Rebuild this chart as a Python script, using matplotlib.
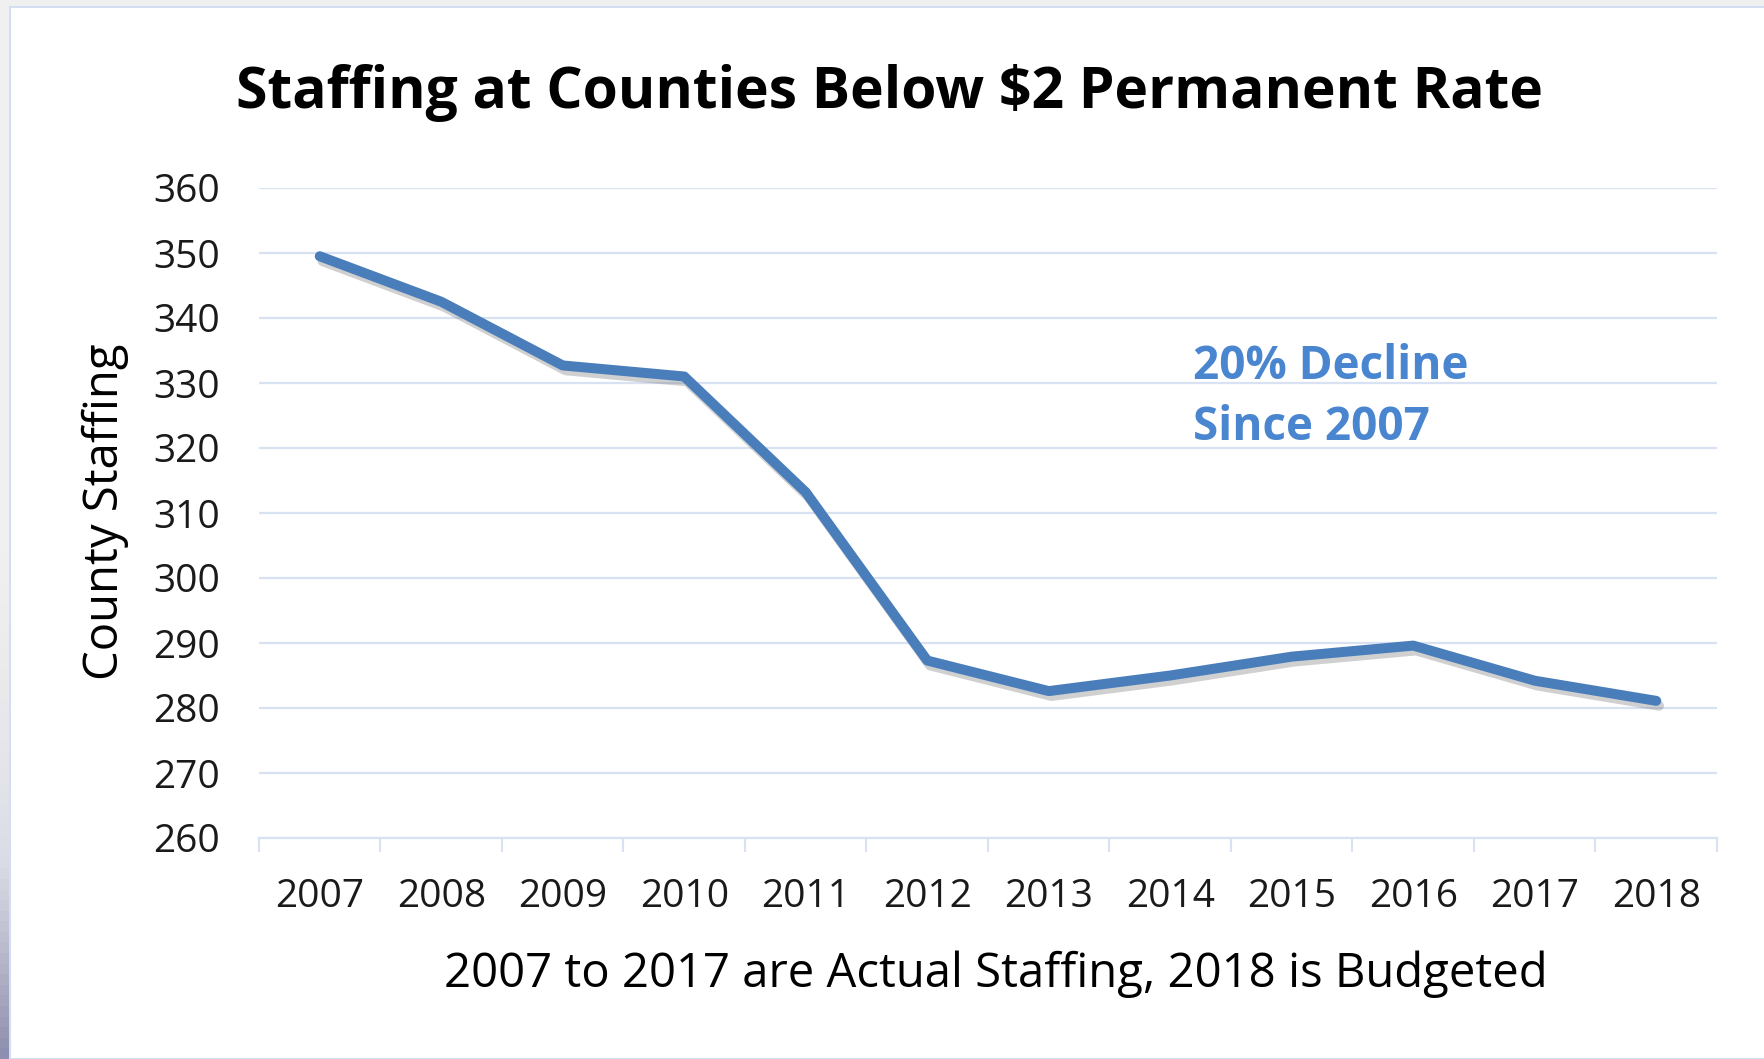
import numpy as np
import matplotlib
matplotlib.use("Agg")
import matplotlib.pyplot as plt
import matplotlib.patheffects as pe
from matplotlib.patches import Rectangle

# values
years = ["2007", "2008", "2009", "2010", "2011", "2012",
         "2013", "2014", "2015", "2016", "2017", "2018"]
staffing = [349.5, 342.5, 332.7, 331.0, 313.2, 287.3,
            282.6, 285.0, 287.9, 289.6, 284.2, 281.1]
y_ticks = [260, 270, 280, 290, 300, 310, 320, 330, 340, 350, 360]

title = "Staffing at Counties Below $2 Permanent Rate"
x_label = "2007 to 2017 are Actual Staffing, 2018 is Budgeted"
y_label = "County Staffing"
note = ["20% Decline", "Since 2007"]

LINE = "#4a7ebb"
GRID = "#d9e2f3"
NOTE = "#4a86d0"
W, H = 1765, 1059

plt.rcParams['font.family'] = ['Open Sans', 'DejaVu Sans']

fig = plt.figure(figsize=(W / 100, H / 100), dpi=100, facecolor="#f0f0f0")

# chart area frame
fig.patches.append(Rectangle((10 / W, 0), 1, 1 - 7 / H, transform=fig.transFigure,
                             facecolor="white", edgecolor="#d3def2", linewidth=1.5,
                             zorder=-5))
# left gradient strip
gax = fig.add_axes([0, 0, 9 / W, 1], zorder=-4)
grad = np.concatenate([np.zeros(50), np.linspace(0, 1, 50) ** 1.5])[:, None]
gax.imshow(grad, aspect="auto", cmap=matplotlib.colors.LinearSegmentedColormap.from_list(
    "g", ["#f0f0f0", "#dcdce6", "#8e8eae"]), extent=[0, 1, 0, 1], origin="upper")
gax.axis("off")

ax = fig.add_axes([259 / W, 1 - 838 / H, (1717 - 259) / W, (838 - 188) / H], zorder=2)
ax.set_facecolor("none")

x = np.arange(len(years))
ax.plot(x, staffing, color=LINE, linewidth=7.2, solid_capstyle="round",
        solid_joinstyle="round", zorder=3,
        path_effects=[pe.SimpleLineShadow(offset=(2, -3.5), shadow_color="#666666", alpha=0.3),
                      pe.Normal()])

ax.set_xlim(-0.5, len(years) - 0.5)
ax.set_ylim(260, 360)
ax.set_yticks(y_ticks)
ax.yaxis.grid(True, color=GRID, linewidth=1.6)
ax.set_axisbelow(True)

ax.set_xticks(np.arange(len(years) + 1) - 0.5)
ax.set_xticklabels([])
ax.set_xticks(x, minor=True)
ax.set_xticklabels(years, minor=True)
ax.tick_params(axis="x", which="major", length=10, width=1.5, color=GRID)
ax.tick_params(axis="x", which="minor", length=0, pad=29, labelsize=28, labelcolor="#1a1a1a")
ax.tick_params(axis="y", length=0, pad=28, labelsize=28, labelcolor="#1a1a1a")

for s in ["top", "right", "left"]:
    ax.spines[s].set_visible(False)
ax.spines["bottom"].set_color(GRID)
ax.spines["bottom"].set_linewidth(1.6)

fig.text(890 / W, 1 - 108 / H, title, ha="center", va="baseline",
         fontsize=41, fontweight="bold", color="black")
fig.text(996 / W, 1 - 987 / H, x_label, ha="center", va="baseline",
         fontsize=34, color="black")
fig.text(105 / W, 1 - 512 / H, y_label, ha="center", va="center", rotation=90,
         fontsize=34, color="black")
fig.text(1193 / W, 1 - 379 / H, note[0], ha="left", va="baseline",
         fontsize=33, fontweight="bold", color=NOTE)
fig.text(1193 / W, 1 - 440 / H, note[1], ha="left", va="baseline",
         fontsize=33, fontweight="bold", color=NOTE)

fig.savefig("out.png", dpi=100, facecolor=fig.get_facecolor())
